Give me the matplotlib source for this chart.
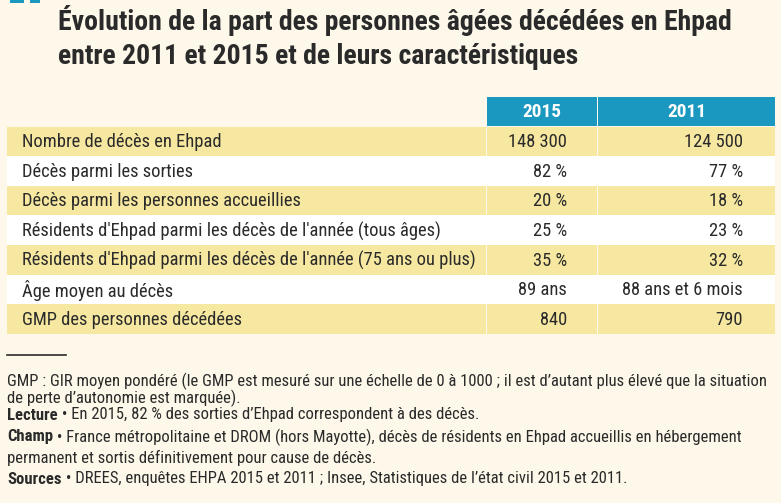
import matplotlib.pyplot as plt
from matplotlib import font_manager
from matplotlib.patches import Rectangle

# données du tableau
title_lines = ["Évolution de la part des personnes âgées décédées en Ehpad",
               "entre 2011 et 2015 et de leurs caractéristiques"]
col_headers = ["2015", "2011"]
row_labels = ["Nombre de décès en Ehpad",
              "Décès parmi les sorties",
              "Décès parmi les personnes accueillies",
              "Résidents d'Ehpad parmi les décès de l'année (tous âges)",
              "Résidents d'Ehpad parmi les décès de l'année (75 ans ou plus)",
              "Âge moyen au décès",
              "GMP des personnes décédées"]
values_2015 = ["148 300", "82 %", "20 %", "25 %", "35 %", "89 ans", "840"]
values_2011 = ["124 500", "77 %", "18 %", "23 %", "32 %", "88 ans et 6 mois", "790"]
note_bold = ["", "", "Lecture", "Champ", "", "Sources"]
note_text = [
    "GMP : GIR moyen pondéré (le GMP est mesuré sur une échelle de 0 à 1000 ; il est d’autant plus élevé que la situation",
    "de perte d’autonomie est marquée).",
    " • En 2015, 82 % des sorties d’Ehpad correspondent à des décès.",
    " • France métropolitaine et DROM (hors Mayotte), décès de résidents en Ehpad accueillis en hébergement",
    "permanent et sortis définitivement pour cause de décès.",
    " • DREES, enquêtes EHPA 2015 et 2011 ; Insee, Statistiques de l’état civil 2015 et 2011.",
]

BG = '#fdf8ea'
YELLOW = '#f7e8a1'
TEAL = '#1b98c0'
TXT = '#2a2a2a'

# chercher une police étroite installée, sinon DejaVu Sans
fam, stretch = 'DejaVu Sans', 'normal'
names = {f.name: f.stretch for f in font_manager.fontManager.ttflist}
for cand in ['Liberation Sans Narrow', 'Roboto Condensed', 'Open Sans Condensed',
             'Noto Sans Condensed', 'DejaVu Sans Condensed', 'Arial Narrow']:
    if cand in names:
        fam, stretch = cand, names[cand]
        break
else:
    for f in font_manager.fontManager.ttflist:
        if f.stretch in ('condensed', 'semi-condensed') and 'Sans' in f.name and 'Mono' not in f.name:
            fam, stretch = f.name, f.stretch
            break
FONT = [fam, 'DejaVu Sans']

fig = plt.figure(figsize=(7.81, 5.03), dpi=100)
fig.patch.set_facecolor(BG)
ax = fig.add_axes([0, 0, 1, 1])
ax.set_xlim(0, 781)
ax.set_ylim(503, 0)
ax.axis('off')
renderer = fig.canvas.get_renderer()


def fit_size(s, width, weight='normal'):
    # taille de police pour que le texte occupe la largeur voulue (px)
    t = ax.text(0, 0, s, fontsize=10, family=FONT, fontstretch=stretch, fontweight=weight)
    w = t.get_window_extent(renderer).width
    t.remove()
    return 10 * width / w


def txt(x, y, s, size, **kw):
    return ax.text(x, y, s, fontsize=size, family=FONT, fontstretch=stretch, color=TXT, **kw)


# petits repères bleus en haut à gauche
ax.add_patch(Rectangle((10, 0), 14, 2.5, color=TEAL, lw=0))
ax.add_patch(Rectangle((30, 0), 10, 2.5, color=TEAL, lw=0))

# titre
title_size = min(fit_size(title_lines[0], 683, 'bold'), 20)
for i, line in enumerate(title_lines):
    txt(58, 30 + i * 34, line, title_size, fontweight='bold', va='baseline', ha='left')

# géométrie du tableau
x_left, x_c1, x_c2, x_right = 7, 487, 598, 775
head_top, head_bot = 97, 125.5
row_h = 29.6
col_bounds = [(x_c1, x_c2 - 1), (x_c2, x_right)]

body_size = min(fit_size(row_labels[4], 452), 14)
head_size = min(fit_size(col_headers[0], 39, 'bold'), 14)

for (a, b), h in zip(col_bounds, col_headers):
    ax.add_patch(Rectangle((a, head_top), b - a, head_bot - head_top, color=TEAL, lw=0))
    ax.text((a + b) / 2, (head_top + head_bot) / 2 + 1, h, fontsize=head_size, fontweight='bold',
            color='white', family=FONT, fontstretch=stretch, ha='center', va='center')

for i, (lab, v1, v2) in enumerate(zip(row_labels, values_2015, values_2011)):
    top = head_bot + 1 + i * row_h
    if i % 2 == 0:
        ax.add_patch(Rectangle((x_left, top), x_c1 - 1 - x_left, row_h, color=YELLOW, lw=0))
        ax.add_patch(Rectangle((x_c1, top), x_c2 - 1 - x_c1, row_h, color=YELLOW, lw=0))
        ax.add_patch(Rectangle((x_c2, top), x_right - x_c2, row_h, color=YELLOW, lw=0))
    else:
        ax.add_patch(Rectangle((x_left, top), x_right - x_left, row_h, color='white', lw=0))
    yc = top + row_h / 2 + 1
    txt(22, yc, lab, body_size, ha='left', va='center')
    txt(567, yc, v1, body_size, ha='right', va='center')
    txt(743, yc, v2, body_size, ha='right', va='center')

# trait court avant les notes
ax.plot([7, 66], [355, 355], color=TXT, lw=1.2)

# notes
note_size = min(fit_size(note_text[0], 758), 12)
note_y = [381, 398, 415, 437, 458, 479]
for y, b, rest in zip(note_y, note_bold, note_text):
    x = 7
    if b:
        t = txt(x, y, b, note_size, fontweight='bold', ha='left', va='center')
        bb = t.get_window_extent(renderer)
        x = ax.transData.inverted().transform((bb.x1, 0))[0]
    txt(x, y, rest, note_size, ha='left', va='center')

fig.savefig('out.png', dpi=100, facecolor=BG)
